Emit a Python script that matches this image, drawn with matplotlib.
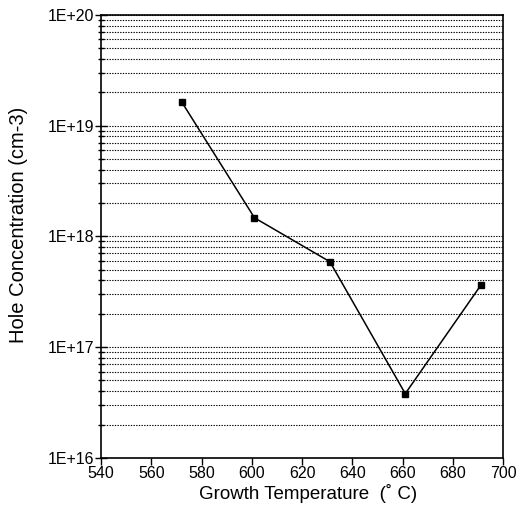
import matplotlib
matplotlib.use("Agg")
import matplotlib.pyplot as plt
from matplotlib.ticker import LogLocator, FuncFormatter, MultipleLocator
import numpy as np

temps = [572, 601, 631, 661, 691]
conc = [1.64e19, 1.47e18, 5.9e17, 3.8e16, 3.6e17]

plt.rcParams['font.family'] = ['Liberation Sans', 'DejaVu Sans']

fig = plt.figure(figsize=(5.27, 5.11), dpi=100)
ax = fig.add_axes([0.192, 0.104, 0.763, 0.867])
ax.set_yscale('log')
ax.set_xlim(540, 700)
ax.set_ylim(1e16, 1e20)

ax.plot(temps, conc, color='black', lw=1.1, marker='s', ms=4, zorder=3)

ax.yaxis.set_major_locator(LogLocator(base=10, numticks=10))
ax.yaxis.set_minor_locator(LogLocator(base=10, subs=np.arange(2, 10), numticks=100))
ax.yaxis.set_major_formatter(FuncFormatter(lambda v, p: "1E+%d" % round(np.log10(v))))
ax.yaxis.set_minor_formatter(FuncFormatter(lambda v, p: ""))
ax.xaxis.set_major_locator(MultipleLocator(20))

ax.grid(True, which='both', axis='y', linestyle=(0, (1.2, 1.2)), color='black', lw=0.8)
ax.tick_params(axis='y', which='major', direction='inout', length=8, width=1, labelsize=11.5, pad=1)
ax.tick_params(axis='y', which='minor', direction='inout', length=5, width=1)
ax.tick_params(axis='x', which='major', direction='out', length=5, width=1, labelsize=11.5, pad=1)
for s in ax.spines.values():
    s.set_linewidth(1.2)

ax.set_xlabel("Growth Temperature  (\u02da C)", fontsize=13.5)
ax.set_ylabel("Hole Concentration (cm-3)", fontsize=14.5)
ax.yaxis.set_label_coords(-0.182, 0.525)
ax.xaxis.set_label_coords(0.515, -0.06)

fig.savefig("out.png", dpi=100)
